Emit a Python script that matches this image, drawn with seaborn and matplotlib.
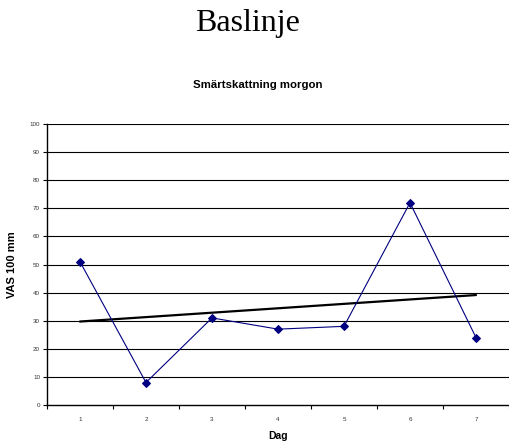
import numpy as np
import pandas as pd
import matplotlib
matplotlib.use("Agg")
import matplotlib.pyplot as plt
import seaborn as sns

# Daily morning pain scores (VAS, mm)
days = [1, 2, 3, 4, 5, 6, 7]
vas = [51, 8, 31, 27, 28, 72, 24]
y_ticks = list(range(0, 101, 10))

sns.set_theme(style="white")
plt.rcParams["font.family"] = ["Liberation Sans", "DejaVu Sans"]
plt.rcParams["text.color"] = "black"
plt.rcParams["axes.labelcolor"] = "black"

df = pd.DataFrame({"Dag": days, "VAS": vas})

fig = plt.figure(figsize=(5.09, 4.48), dpi=100)
ax = fig.add_axes([0.0923, 0.096, 0.9077, 0.627])

# Horizontal gridlines
for v in y_ticks[1:]:
    ax.axhline(v, color="black", lw=0.8, zorder=1)

# Linear trend
coef = np.polyfit(days, vas, 1)
trend = np.polyval(coef, [days[0], days[-1]])
ax.plot([days[0], days[-1]], trend, color="black", lw=1.6, zorder=2)

sns.lineplot(data=df, x="Dag", y="VAS", ax=ax, color="#000080", lw=0.8,
             marker="D", markersize=4, markeredgecolor="#000080",
             markerfacecolor="#000080", zorder=3)

ax.set_xlim(0.5, 7.5)
ax.set_ylim(0, 100)
ax.set_xticks(days)
ax.set_xticklabels([str(d) for d in days], fontsize=4.5, color="#333333")
ax.set_xticks(np.arange(0.5, 7.6, 1.0), minor=True)
ax.set_yticks(y_ticks)
ax.set_yticklabels([str(t) for t in y_ticks], fontsize=4.5, color="#333333")
ax.tick_params(axis="x", which="major", length=0, pad=9)
ax.tick_params(axis="x", which="minor", length=3, width=0.8, color="black",
               direction="out", bottom=True)
ax.tick_params(axis="y", which="major", length=3, width=0.8, color="black",
               direction="out", left=True, pad=2)

for side in ["top", "right"]:
    ax.spines[side].set_visible(False)
for side in ["left", "bottom"]:
    ax.spines[side].set_color("black")
    ax.spines[side].set_linewidth(1.0)

ax.set_xlabel("Dag", fontsize=7.5, fontweight="bold", labelpad=6)
ax.set_ylabel("VAS 100 mm", fontsize=8, fontweight="bold", labelpad=9)

fig.text(0.487, 0.948, "Baslinje", ha="center", va="center",
         fontsize=23, family="Liberation Serif")
fig.text(0.507, 0.81, "Smärtskattning morgon", ha="center", va="center",
         fontsize=8.2, fontweight="bold")

fig.savefig("out.png", dpi=100)
